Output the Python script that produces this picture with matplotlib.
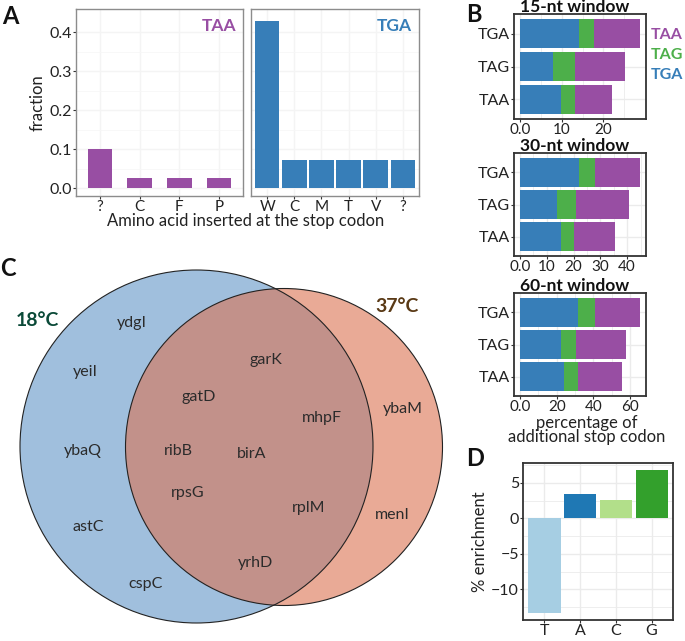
import matplotlib.pyplot as plt
import matplotlib.patches as mpatches
import numpy as np

plt.rcParams['font.family'] = ['Lato', 'DejaVu Sans']
plt.rcParams['font.size'] = 11

W, H = 685, 641
PURPLE, GREEN, BLUE = '#984EA3', '#4DAF4A', '#377EB8'
TXT = '#222222'

# ---- data ----
# panel A: fraction of amino acid inserted at the stop codon
taa_aa = ['?', 'C', 'F', 'P']
taa_frac = [0.100, 0.025, 0.025, 0.025]
tga_aa = ['W', 'C', 'M', 'T', 'V', '?']
tga_frac = [0.4286, 0.0714, 0.0714, 0.0714, 0.0714, 0.0714]

# panel B: percentage of additional stop codon (rows: TAA, TAG, TGA)
b_rows = ['TAA', 'TAG', 'TGA']
b_windows = ['15-nt window', '30-nt window', '60-nt window']
b_tga = [[9.8, 8.0, 14.1], [15.2, 13.7, 22.2], [24.2, 22.2, 31.5]]
b_tag = [[3.3, 5.1, 3.7], [4.8, 7.3, 5.9], [7.4, 8.5, 9.6]]
b_taa = [[9.0, 12.1, 11.0], [15.4, 19.6, 16.7], [23.8, 27.0, 24.3]]
b_ticks = [[0, 10, 20], [0, 10, 20, 30, 40], [0, 20, 40, 60]]

# panel C: genes
genes_18_only = ['ydgI', 'yeiI', 'ybaQ', 'astC', 'cspC']
genes_both = ['garK', 'gatD', 'mhpF', 'ribB', 'birA', 'rpsG', 'rplM', 'yrhD']
genes_37_only = ['ybaM', 'menI']

# panel D: % enrichment
d_nt = ['T', 'A', 'C', 'G']
d_enrich = [-13.3, 3.4, 2.6, 6.8]
d_colors = ['#A6CEE3', '#1F78B4', '#B2DF8A', '#33A02C']

fig = plt.figure(figsize=(W / 100, H / 100), dpi=100)


def px_axes(x0, y0, x1, y1):
    return fig.add_axes([x0 / W, 1 - y1 / H, (x1 - x0) / W, (y1 - y0) / H])


def style(ax, edge='#333333', grid='#EBEBEB', lw=1.0):
    for s in ax.spines.values():
        s.set_color(edge)
        s.set_linewidth(lw)
    ax.set_axisbelow(True)
    ax.tick_params(length=2, width=0.8, color='#333333', labelcolor=TXT, pad=0.8)
    ax.grid(True, which='major', color=grid, lw=1.0)


# ---- background axes: Venn + panel letters ----
bg = fig.add_axes([0, 0, 1, 1])
bg.set_xlim(0, W)
bg.set_ylim(H, 0)
bg.axis('off')

for lab, (x, y) in zip('ABCD', [(10, 16), (474, 15), (8, 269), (475, 458)]):
    bg.text(x, y, lab, fontsize=17, fontweight='bold', ha='center', va='center', color='#111111')

c18 = mpatches.Circle((196.5, 446.5), 176.5, fc='#A0BFDD', ec='none')
c37 = mpatches.Circle((284, 447), 158.5, fc='#E9AA96', ec='none')
bg.add_patch(c18)
bg.add_patch(c37)
ov = mpatches.Circle((284, 447), 158.5, fc='#C2918A', ec='none')
bg.add_patch(ov)
ov.set_clip_path(c18)
for c in [(196.5, 446.5, 176.5), (284, 447, 158.5)]:
    bg.add_patch(mpatches.Circle(c[:2], c[2], fc='none', ec='#222222', lw=0.8))

bg.text(37, 321, '18°C', fontsize=14, fontweight='bold', color='#0B4A38', ha='center', va='center')
bg.text(397, 306, '37°C', fontsize=14, fontweight='bold', color='#5A3A16', ha='center', va='center')

pos_18 = [(132, 323), (85, 372), (83, 451), (88, 527), (146, 584)]
pos_both = [(266, 360), (199, 397), (322, 418), (178, 451), (252, 454), (188, 493), (309, 508), (255, 563)]
pos_37 = [(403, 409), (392, 515)]
for names, pos in [(genes_18_only, pos_18), (genes_both, pos_both), (genes_37_only, pos_37)]:
    for g, (x, y) in zip(names, pos):
        bg.text(x, y, g, fontsize=11.5, ha='center', va='center', color='#2B2B2B')

# ---- panel A ----
axL = px_axes(76, 9, 243, 196)
axR = px_axes(251, 9, 419, 196)
for ax, cats, vals, col, lab, wd in [(axL, taa_aa, taa_frac, PURPLE, 'TAA', 0.61),
                                     (axR, tga_aa, tga_frac, BLUE, 'TGA', 0.9)]:
    x = np.arange(len(cats))
    ax.bar(x, vals, width=wd, color=col)
    ax.set_xlim(-0.6, len(cats) - 0.4)
    ax.set_ylim(-0.0205, 0.459)
    ax.set_xticks(x)
    ax.set_xticklabels(cats, fontsize=11)
    ax.set_yticks([0, 0.1, 0.2, 0.3, 0.4])
    ax.set_yticks([0.05, 0.15, 0.25, 0.35], minor=True)
    style(ax, edge='#8C8C8C', grid='#F4F4F4')
    ax.grid(True, which='minor', axis='y', color='#F7F7F7', lw=0.6)
    ax.tick_params(which='minor', length=0)
    ax.text(0.96, 0.91, lab, transform=ax.transAxes, ha='right', va='center',
            fontsize=12.5, fontweight='bold', color=col)
axL.set_yticklabels(['0.0', '0.1', '0.2', '0.3', '0.4'], fontsize=11.5)
axR.tick_params(axis='y', left=False, labelleft=False)
axL.set_ylabel('fraction', fontsize=12, color=TXT, labelpad=3)
fig.text(246 / W, 1 - 221 / H, 'Amino acid inserted at the stop codon', fontsize=12,
         ha='center', va='center', color=TXT)

# ---- panel B ----
boxes = [(514, 14, 646, 119), (514, 153, 646, 256), (514, 293, 646, 396)]
for i, box in enumerate(boxes):
    ax = px_axes(*box)
    y = np.arange(3)
    blue = np.array(b_tga[i])
    green = np.array(b_tag[i])
    purple = np.array(b_taa[i])
    ax.barh(y, blue, height=0.9, color=BLUE)
    ax.barh(y, green, left=blue, height=0.9, color=GREEN)
    ax.barh(y, purple, left=blue + green, height=0.9, color=PURPLE)
    tot = (blue + green + purple).max()
    ax.set_xlim(-0.05 * tot, 1.05 * tot)
    ax.set_ylim(-0.6, 2.6)
    ax.set_yticks(y)
    ax.set_yticklabels(b_rows, fontsize=11.5)
    tk = b_ticks[i]
    ax.set_xticks(tk)
    ax.set_xticklabels(['0.0'] + [str(t) for t in tk[1:]], fontsize=11)
    step = tk[1] - tk[0]
    ax.set_xticks(np.arange(step / 2, 1.05 * tot, step), minor=True)
    style(ax, lw=1.3)
    ax.grid(True, which='minor', axis='x', color='#EBEBEB', lw=0.6)
    ax.tick_params(which='minor', length=0)
    fig.text(520 / W, 1 - (box[1] - 7) / H, b_windows[i], fontsize=12.5, fontweight='bold',
             ha='left', va='center', color='#111111')

fig.text(587 / W, 1 - 430 / H, 'percentage of\nadditional stop codon', fontsize=12, color=TXT,
         ha='center', va='center', linespacing=0.85)

for lab, col, yy in [('TAA', PURPLE, 35), ('TAG', GREEN, 55), ('TGA', BLUE, 75)]:
    fig.text(651 / W, 1 - yy / H, lab, fontsize=11.5, fontweight='bold', color=col,
             ha='left', va='center')

# ---- panel D ----
axD = px_axes(523, 463, 673, 620)
xd = np.arange(len(d_nt))
axD.bar(xd, d_enrich, width=0.9, color=d_colors)
axD.set_xlim(-0.6, len(d_nt) - 0.4)
rng = max(d_enrich) - min(d_enrich)
axD.set_ylim(min(d_enrich) - 0.05 * rng, max(d_enrich) + 0.05 * rng)
axD.set_xticks(xd)
axD.set_xticklabels(d_nt, fontsize=11.5)
axD.set_yticks([-10, -5, 0, 5])
axD.set_yticklabels(['\u221210', '\u22125', '0', '5'], fontsize=11.5)
axD.set_yticks([-12.5, -7.5, -2.5, 2.5, 7.5], minor=True)
style(axD, lw=1.3)
axD.grid(True, which='minor', axis='y', color='#EBEBEB', lw=0.6)
axD.tick_params(which='minor', length=0)
axD.set_ylabel('% enrichment', fontsize=12, color=TXT, labelpad=2)

fig.savefig('out.png', dpi=100)
